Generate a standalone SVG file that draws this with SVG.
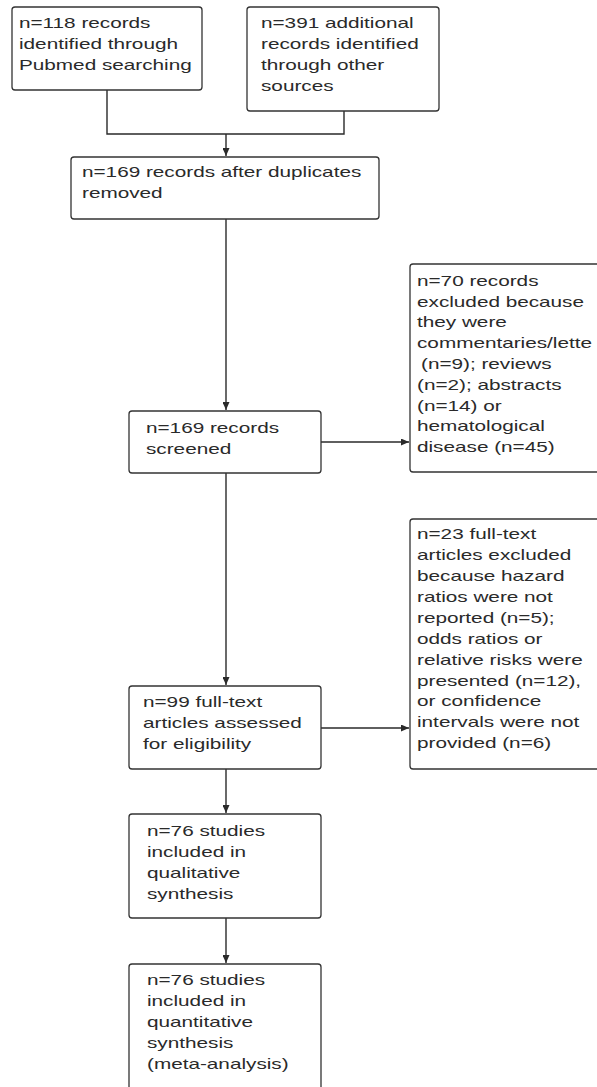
<svg xmlns="http://www.w3.org/2000/svg" width="597" height="1087" viewBox="0 0 597 1087">
<style>
.box{fill:#ffffff;stroke:#333333;stroke-width:1.3}
.t{font-family:"Liberation Sans",Arial,sans-serif;font-size:14.5px;fill:#2a2a2a}
.c{fill:none;stroke:#2a2a2a;stroke-width:1.4}
</style>
<defs>
<marker id="ah" markerUnits="userSpaceOnUse" markerWidth="9" markerHeight="7" refX="8" refY="3.5" orient="auto">
<path d="M0,0 L8,3.5 L0,7 z" fill="#2a2a2a"/>
</marker>
</defs>
<rect width="597" height="1087" fill="#ffffff"/>
<g id="connectors">
<path class="c" d="M107,90 V134 H344 V111"/>
<path class="c" d="M226,134 V156" marker-end="url(#ah)"/>
<path class="c" d="M226,219 V410" marker-end="url(#ah)"/>
<path class="c" d="M321,442 H409" marker-end="url(#ah)"/>
<path class="c" d="M226,473 V685" marker-end="url(#ah)"/>
<path class="c" d="M321,728 H409" marker-end="url(#ah)"/>
<path class="c" d="M226,769 V813" marker-end="url(#ah)"/>
<path class="c" d="M226,918 V963" marker-end="url(#ah)"/>
</g>
<g id="n1">
<rect class="box" x="12" y="7" width="190" height="83" rx="3"/>
<text class="t" transform="translate(19,0) scale(1.43,1)"><tspan x="0" y="28">n=118 records</tspan><tspan x="0" y="49">identified through</tspan><tspan x="0" y="70">Pubmed searching</tspan></text>
</g>
<g id="n2">
<rect class="box" x="247" y="7" width="192" height="104" rx="3"/>
<text class="t" transform="translate(261,0) scale(1.43,1)"><tspan x="0" y="28">n=391 additional</tspan><tspan x="0" y="49">records identified</tspan><tspan x="0" y="70">through other</tspan><tspan x="0" y="91">sources</tspan></text>
</g>
<g id="n3">
<rect class="box" x="71" y="157" width="308" height="62" rx="3"/>
<text class="t" transform="translate(82,0) scale(1.43,1)"><tspan x="0" y="177">n=169 records after duplicates</tspan><tspan x="0" y="198">removed</tspan></text>
</g>
<g id="n4">
<rect class="box" x="129" y="411" width="192" height="62" rx="3"/>
<text class="t" transform="translate(146,0) scale(1.43,1)"><tspan x="0" y="433">n=169 records</tspan><tspan x="0" y="454">screened</tspan></text>
</g>
<g id="n5">
<rect class="box" x="410" y="264" width="200" height="208" rx="3"/>
<text class="t" transform="translate(417,0) scale(1.43,1)"><tspan x="0" y="286">n=70 records</tspan><tspan x="0" y="307">excluded because</tspan><tspan x="0" y="327">they were</tspan><tspan x="0" y="348">commentaries/lette</tspan><tspan x="2.8" y="369">(n=9); reviews</tspan><tspan x="0" y="390">(n=2); abstracts</tspan><tspan x="0" y="411">(n=14) or</tspan><tspan x="0" y="431">hematological</tspan><tspan x="0" y="452">disease (n=45)</tspan></text>
</g>
<g id="n6">
<rect class="box" x="129" y="686" width="192" height="83" rx="3"/>
<text class="t" transform="translate(143,0) scale(1.43,1)"><tspan x="0" y="707">n=99 full-text</tspan><tspan x="0" y="728">articles assessed</tspan><tspan x="0" y="749">for eligibility</tspan></text>
</g>
<g id="n7">
<rect class="box" x="410" y="519" width="200" height="250" rx="3"/>
<text class="t" transform="translate(417,0) scale(1.43,1)"><tspan x="0" y="539">n=23 full-text</tspan><tspan x="0" y="560">articles excluded</tspan><tspan x="0" y="581">because hazard</tspan><tspan x="0" y="602">ratios were not</tspan><tspan x="0" y="623">reported (n=5);</tspan><tspan x="0" y="644">odds ratios or</tspan><tspan x="0" y="665">relative risks were</tspan><tspan x="0" y="686">presented (n=12),</tspan><tspan x="0" y="706">or confidence</tspan><tspan x="0" y="727">intervals were not</tspan><tspan x="0" y="748">provided (n=6)</tspan></text>
</g>
<g id="n8">
<rect class="box" x="129" y="814" width="192" height="104" rx="3"/>
<text class="t" transform="translate(147,0) scale(1.43,1)"><tspan x="0" y="836">n=76 studies</tspan><tspan x="0" y="857">included in</tspan><tspan x="0" y="878">qualitative</tspan><tspan x="0" y="899">synthesis</tspan></text>
</g>
<g id="n9">
<rect class="box" x="129" y="964" width="192" height="140" rx="3"/>
<text class="t" transform="translate(147,0) scale(1.43,1)"><tspan x="0" y="985">n=76 studies</tspan><tspan x="0" y="1006">included in</tspan><tspan x="0" y="1027">quantitative</tspan><tspan x="0" y="1048">synthesis</tspan><tspan x="0" y="1069">(meta-analysis)</tspan></text>
</g>
</svg>
